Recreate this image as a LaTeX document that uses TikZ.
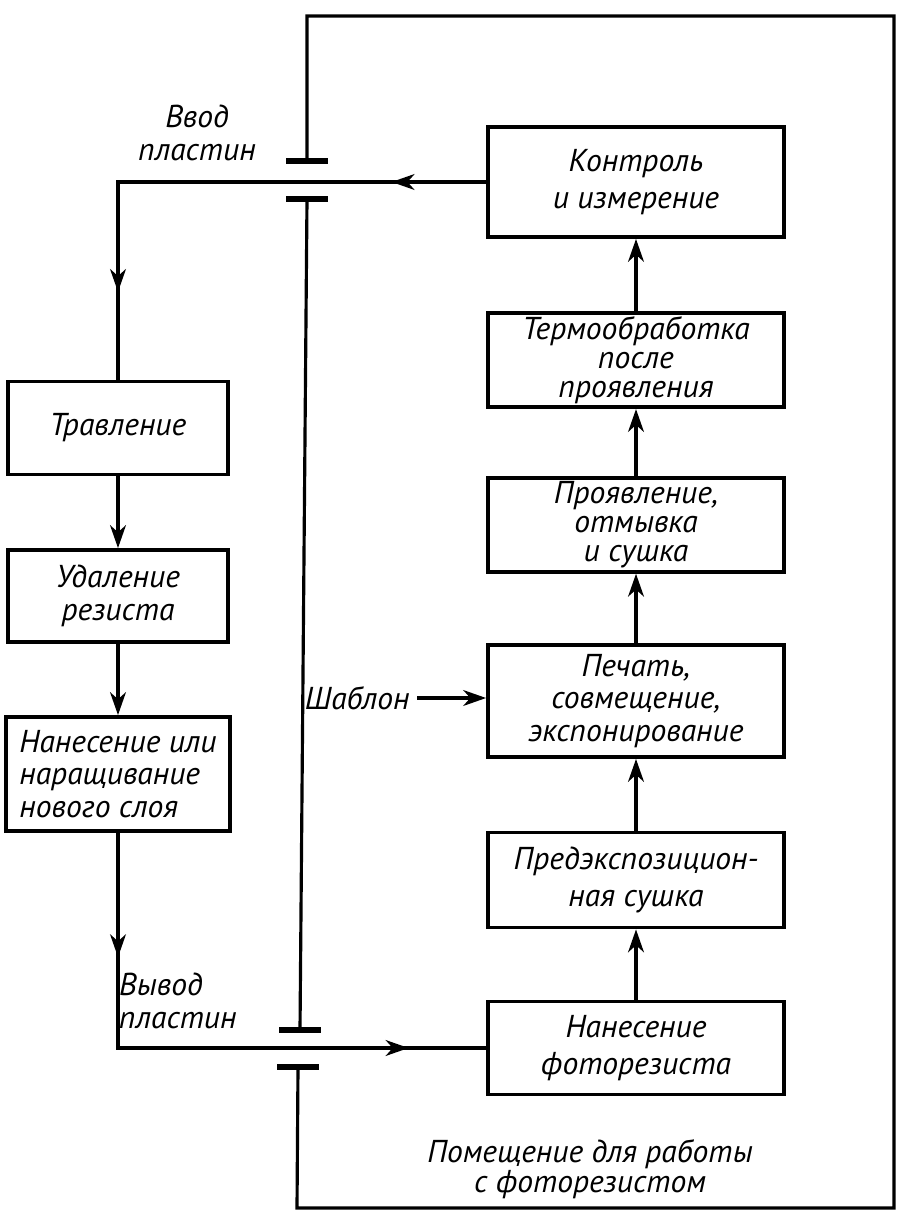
\documentclass[tikz,border=0pt]{standalone}
\usepackage{fontspec}
\setmainfont{PT Sans}
\usetikzlibrary{arrows.meta, decorations.markings}
\newcommand{\diagfont}{\fontsize{18}{18.5}\selectfont\itshape}
\tikzset{
    >={Stealth[length=13pt, width=9pt, inset=4pt]},
    box/.style={draw, line width=2.2pt, align=center, inner sep=2pt, font=\diagfont},
    tight/.style={font=\fontsize{18}{16.5}\selectfont\itshape},
    loose/.style={font=\fontsize{18}{21.5}\selectfont\itshape},
    lbl/.style={align=center, inner sep=1pt, font=\diagfont},
    bar/.style={fill, inner sep=0pt, minimum width=0.84cm, minimum height=0.12cm},
    arr/.style={line width=1.8pt, ->},
    flow/.style={line width=1.8pt},
    wall/.style={line width=1.8pt},
    midarrows/.style 2 args={postaction={decorate}, decoration={markings,
        mark=at position #1 with {\arrow{>}},
        mark=at position #2 with {\arrow{>}}}},
}
\begin{document}
\begin{tikzpicture}[x=0.02cm, y=-0.02cm]
            \useasboundingbox (0, 0) rectangle (917, 1222);

            % left column
            \node[box, minimum width=4.4cm, minimum height=1.86cm] (trav) at (118, 428) {Травление};
            \node[box, minimum width=4.4cm, minimum height=1.84cm] (udal) at (118, 596) {Удаление\\резиста};
            \node[box, align=left, minimum width=4.48cm, minimum height=2.28cm] (nanes) at (118, 774) {Нанесение или\\наращивание\\нового слоя};

            % right column
            \node[box, loose, minimum width=5.92cm, minimum height=2.2cm] (kontr) at (636, 182) {Контроль\\и измерение};
            \node[box, tight, minimum width=5.92cm, minimum height=1.86cm] (termo) at (636, 360) {Термообработка\\после\\проявления};
            \node[box, tight, minimum width=5.92cm, minimum height=1.72cm] (projav) at (636, 525) {Проявление,\\отмывка\\и сушка};
            \node[box, minimum width=5.92cm, minimum height=2.24cm] (pechat) at (636, 701) {Печать,\\совмещение,\\экспонирование};
            \node[box, loose, minimum width=5.92cm, minimum height=1.9cm] (predexp) at (636, 880) {Предэкспозицион-\\ная сушка};
            \node[box, loose, minimum width=5.92cm, minimum height=1.86cm] (nanfoto) at (636, 1048) {Нанесение\\фоторезиста};

            \node[lbl] (vvod) at (197, 133) {Ввод\\пластин};
            \node[lbl, align=left, anchor=west] (vyvod) at (117, 1001) {Вывод\\пластин};
            \node[lbl, inner xsep=4pt, anchor=east] (shablon) at (417, 698) {Шаблон};
            \node[lbl, font=\fontsize{18}{17}\selectfont\itshape] (room) at (590, 1169) {Помещение для работы\\с фоторезистом};

            % room walls and gates
            \node[bar] (gAup) at (307, 161) {};
            \node[bar] (gAlo) at (307, 199) {};
            \node[bar] (gBup) at (300, 1030) {};
            \node[bar] (gBlo) at (298, 1067) {};
            \coordinate (roomNE) at (894, 16);
            \coordinate (roomSW) at (297, 1208);
            \draw[wall] (gAup.center) |- (roomNE) |- (roomSW) -- (gBlo.center);
            \draw[wall] (gAlo.center) -- (gBup.center);

            \draw[flow, midarrows={0.167}{0.845}] (kontr.west) -- (kontr.west -| trav.north) -- (trav.north);
            \draw[arr] (trav) -- (udal);
            \draw[arr] (udal) -- (nanes);
            \draw[flow, midarrows={0.213}{0.867}] (nanes.south) -- (nanes.south |- nanfoto.west) -- (nanfoto.west);
            \draw[arr] (nanfoto) -- (predexp);
            \draw[arr] (predexp) -- (pechat);
            \draw[arr] (pechat) -- (projav);
            \draw[arr] (projav) -- (termo);
            \draw[arr] (termo) -- (kontr);
            \draw[arr] (shablon) -- (shablon -| pechat.west);

            %\draw[lightgray] (0, 0) grid[step=50] (917, 1222);
        \end{tikzpicture}
\end{document}
